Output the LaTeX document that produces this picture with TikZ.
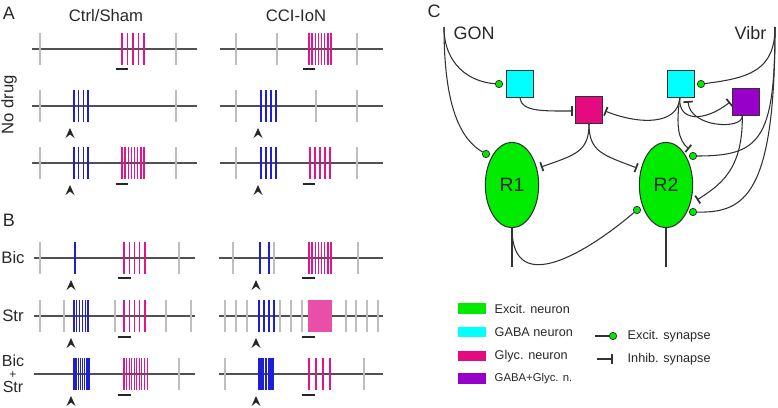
\documentclass[tikz,border=0pt]{standalone}
\usepackage{fontspec}
\setmainfont{Liberation Sans}
\usepackage{tikz}
\usetikzlibrary{positioning}
\usetikzlibrary{shapes.geometric, arrows.meta}
\definecolor{neurgreen}{RGB}{0,235,0}
\definecolor{gabacyan}{RGB}{0,255,255}
\definecolor{glycmag}{RGB}{228,10,128}
\definecolor{mixpurp}{RGB}{150,0,200}
\definecolor{spikemag}{RGB}{225,20,140}
\definecolor{spikeblue}{RGB}{30,30,210}
\definecolor{tickgray}{RGB}{190,190,190}
\definecolor{linegray}{RGB}{80,80,80}
\definecolor{wirecol}{RGB}{50,50,50}
\definecolor{txtgray}{RGB}{40,40,40}
\tikzstyle{trace} = [linegray, line width=1.1pt]
\tikzstyle{grayspk} = [tickgray, line width=0.9pt]
\tikzstyle{gly} = [spikemag, line width=1pt]
\tikzstyle{gab} = [spikeblue, line width=1pt]
\tikzstyle{stim} = [black!85, line width=2.2pt]
\tikzstyle{lbl} = [text=txtgray, font=\fontsize{12.5}{14}\selectfont]
\tikzstyle{panel} = [text=txtgray, font=\fontsize{13.5}{15}\selectfont]
\tikzstyle{leg} = [text=txtgray, font=\fontsize{9.5}{11}\selectfont, anchor=west]
\tikzstyle{legbox} = [rectangle, minimum width=21pt, minimum height=8pt, inner sep=0pt]
\tikzstyle{neuron} = [ellipse, draw=wirecol, fill=neurgreen, line width=0.8pt, minimum width=40pt, minimum height=64pt, inner sep=0pt, text=txtgray, font=\fontsize{14.5}{16}\selectfont]
\tikzstyle{cellbox} = [rectangle, draw=wirecol, line width=0.8pt, minimum size=20pt, inner sep=0pt]
\tikzstyle{wire} = [wirecol, line width=0.8pt]
\tikzstyle{exc} = [circle, draw=wirecol, fill=neurgreen, line width=0.6pt, minimum size=5.5pt, inner sep=0pt]
\tikzstyle{inh} = [wire, -{Bar[width=7pt, line width=1.3pt]}]

\begin{document}
\begin{tikzpicture}[x=0.75pt, y=-0.75pt]
	\useasboundingbox (0,0) rectangle (778,407);

	\node[panel] (labA) at (9,13) {A};
	\node[panel] (labB) at (9,220) {B};
	\node[panel] (labC) at (434,11) {C};
	\node[lbl] (ctrl) at (106,16) {Ctrl/Sham};
	\node[lbl] (cci) at (296,16) {CCI-IoN};
	\node[lbl, rotate=90] (nodrug) at (9,105) {No drug};
	\node[lbl] (bic) at (13,258) {Bic};
	\node[lbl] (str) at (13,316) {Str};
	\node[lbl, inner sep=0pt, font=\fontsize{12}{14}\selectfont] (bic2) at (13,361) {Bic};
	\node[lbl, inner sep=0pt, font=\fontsize{9}{10}\selectfont] (plus) at (13,375) {+};
	\node[lbl, inner sep=0pt, font=\fontsize{12}{14}\selectfont] (str2) at (13,387) {Str};

	% A, Ctrl/Sham
	\draw[trace] (32,49) -- (197,49);
	\foreach \x in {40,176} \draw[grayspk] (\x,33) -- ++(0,32);
	\foreach \x in {122,127.5,133,138.5,144} \draw[gly] (\x,33) -- ++(0,32);
	\draw[stim] (116,69) -- ++(12,0);
	\draw[trace] (32,106) -- (197,106);
	\foreach \x in {40,176} \draw[grayspk] (\x,90) -- ++(0,32);
	\foreach \x in {74,78.7,83.3,88} \draw[gab] (\x,90) -- ++(0,32);
	\draw[trace] (32,163) -- (197,163);
	\foreach \x in {40,176} \draw[grayspk] (\x,147) -- ++(0,32);
	\foreach \x in {74,78.7,83.3,88} \draw[gab] (\x,147) -- ++(0,32);
	\foreach \i in {0,...,7} \draw[gly] ({122+3.14*\i},147) -- ++(0,32);
	\draw[stim] (116,184) -- ++(12,0);

	% A, CCI-IoN
	\draw[trace] (220,49) -- (383,49);
	\foreach \x in {236,277,357} \draw[grayspk] (\x,33) -- ++(0,32);
	\foreach \i in {0,...,7} \draw[gly] ({309+3.14*\i},33) -- ++(0,32);
	\draw[stim] (303,69) -- ++(12,0);
	\draw[trace] (220,106) -- (383,106);
	\foreach \x in {236,316,357} \draw[grayspk] (\x,90) -- ++(0,32);
	\foreach \x in {261,266,271,276} \draw[gab] (\x,90) -- ++(0,32);
	\draw[trace] (220,163) -- (383,163);
	\foreach \x in {236,357} \draw[grayspk] (\x,147) -- ++(0,32);
	\foreach \x in {261,266,271,276} \draw[gab] (\x,147) -- ++(0,32);
	\foreach \x in {310,315,320,325,330} \draw[gly] (\x,147) -- ++(0,32);
	\draw[stim] (303,184) -- ++(12,0);

	% B, Ctrl/Sham
	\draw[trace] (34,258) -- (195,258);
	\foreach \x in {40,179} \draw[grayspk] (\x,242) -- ++(0,32);
	\draw[gab] (75,242) -- ++(0,32);
	\foreach \i in {0,...,4} \draw[gly] ({124+5.25*\i},242) -- ++(0,32);
	\draw[stim] (118,278) -- ++(13,0);
	\draw[trace] (34,316) -- (195,316);
	\foreach \x in {40,64,115,166,191} \draw[grayspk] (\x,300) -- ++(0,32);
	\foreach \i in {0,...,5} \draw[gab] ({74+2.8*\i},300) -- ++(0,32);
	\foreach \i in {0,...,4} \draw[gly] ({124+5.25*\i},300) -- ++(0,32);
	\draw[stim] (118,337) -- ++(13,0);
	\draw[trace] (34,374) -- (195,374);
	\draw[grayspk] (179,358) -- ++(0,32);
	\foreach \i in {0,...,7} \draw[gab] ({74+2.14*\i},358) -- ++(0,32);
	\foreach \i in {0,...,9} \draw[gly, line width=0.8pt] ({124+2.56*\i},358) -- ++(0,32);
	\draw[stim] (118,395) -- ++(13,0);

	% B, CCI-IoN
	\draw[trace] (219,258) -- (383,258);
	\foreach \x in {233,274,358} \draw[grayspk] (\x,242) -- ++(0,32);
	\foreach \x in {260,269} \draw[gab] (\x,242) -- ++(0,32);
	\foreach \i in {0,...,7} \draw[gly] ({309+3.14*\i},242) -- ++(0,32);
	\draw[stim] (302,278) -- ++(13,0);
	\draw[trace] (219,316) -- (383,316);
	\foreach \x in {225,236,247,280,291,302,346,356,367,378} \draw[grayspk] (\x,300) -- ++(0,32);
	\foreach \x in {259,264,269,274} \draw[gab] (\x,300) -- ++(0,32);
	\foreach \i in {0,...,11} \draw[gly, spikemag!75, line width=0.85pt] ({309+2*\i},300) -- ++(0,32);
	\draw[stim] (302,337) -- ++(13,0);
	\draw[trace] (219,374) -- (383,374);
	\foreach \x in {225,364} \draw[grayspk] (\x,358) -- ++(0,32);
	\foreach \i in {0,...,9} \draw[gab] ({259+1.56*\i},358) -- ++(0,32);
	\foreach \x in {309,316,323,330} \draw[gly] (\x,358) -- ++(0,32);
	\draw[stim] (302,395) -- ++(13,0);

	% stimulus arrowheads
	\foreach \x/\y in {70/128,70/185,258/128,258/185,71/280,71/338,71/396,256/280,256/338,256/396}
		\fill[black!85] (\x,\y) -- ++(4.5,10) -- ++(-4.5,-3.5) -- ++(-4.5,3.5) -- cycle;

	% C, circuit
	\coordinate (gon) at (444,27);
	\coordinate (vibr) at (775,27);
	\node[panel, anchor=west] (gonl) at (449,33) {GON};
	\node[panel, anchor=east] (vibrl) at (771,33) {Vibr};

	\node[cellbox, fill=gabacyan] (gaba1) at (520,84) {};
	\node[cellbox, fill=gabacyan] (gaba2) at (681,84) {};
	\node[cellbox, fill=glycmag] (glyc) at (589,110) {};
	\node[cellbox, fill=mixpurp] (mix) at (746,102) {};
	\node[neuron] (R1) at (512,185) {R1};
	\node[neuron] (R2) at (666,185) {R2};

	\node[exc] (e1) at (499,84) {};
	\node[exc] (e2) at (486,154) {};
	\node[exc] (e3) at (701,84) {};
	\node[exc] (e4) at (693,156) {};
	\node[exc] (e5) at (693,212) {};
	\node[exc] (e6) at (637,210) {};
	\coordinate (i1) at (573,111);
	\coordinate (i2) at (605,111);
	\coordinate (i3) at (730,102);
	\coordinate (i4) at (689,149);
	\coordinate (i5) at (688,101);
	\coordinate (i6) at (697,200);
	\coordinate (i7) at (541,167);
	\coordinate (i8) at (637,168);
	\coordinate (out1) at (512,267);
	\coordinate (out2) at (666,267);

	\draw[wire] (gon) .. controls (444,65) and (470,82) .. (e1);
	\draw[wire] (gon) .. controls (444,110) and (462,140) .. (e2);
	\draw[wire] (vibr) .. controls (775,70) and (750,78) .. (e3);
	\draw[wire] (vibr) .. controls (775,140) and (760,156) .. (e4);
	\draw[wire] (vibr) .. controls (775,195) and (745,213) .. (e5);
	\draw[wire] (R1.south) .. controls (512,300) and (590,250) .. (e6);
	\draw[wire] (R1.south) -- (out1);
	\draw[wire] (R2.south) -- (out2);

	\draw[inh] (gaba1.south) .. controls (521,112) and (545,111) .. (i1);
	\draw[inh] (gaba2.265) .. controls (678,125) and (640,125) .. (i2);
	\draw[inh] (gaba2.265) .. controls (678,122) and (705,122) .. (i3);
	\draw[inh] (gaba2.265) .. controls (676,125) and (678,140) .. (i4);
	\draw[inh] (mix.255) .. controls (743,130) and (690,128) .. (i5);
	\draw[inh] (mix.255) .. controls (743,170) and (720,185) .. (i6);
	\draw[inh] (glyc.south) .. controls (589,152) and (575,155) .. (i7);
	\draw[inh] (glyc.south) .. controls (589,152) and (603,155) .. (i8);

	% legend
	\node[legbox, fill=neurgreen] (lg1) at (472,308.5) {};
	\node[legbox, fill=gabacyan] (lg2) at (472,332) {};
	\node[legbox, fill=glycmag] (lg3) at (472,356) {};
	\node[legbox, fill=mixpurp] (lg4) at (472,378.5) {};
	\node[leg] (lt1) at (490,309) {Excit. neuron};
	\node[leg] (lt2) at (490,332) {GABA neuron};
	\node[leg] (lt3) at (490,356) {Glyc. neuron};
	\node[leg, font=\fontsize{8.5}{10}\selectfont] (lt4) at (490,379) {GABA+Glyc. n.};
	\node[exc] (le) at (613,336) {};
	\coordinate (les) at (595,336);
	\draw[wire] (les) -- (le);
	\node[leg] (lt5) at (623,336) {Excit. synapse};
	\coordinate (lis) at (597,359);
	\coordinate (lie) at (613,359);
	\draw[inh] (lis) -- (lie);
	\node[leg] (lt6) at (623,359) {Inhib. synapse};
\end{tikzpicture}
\end{document}
